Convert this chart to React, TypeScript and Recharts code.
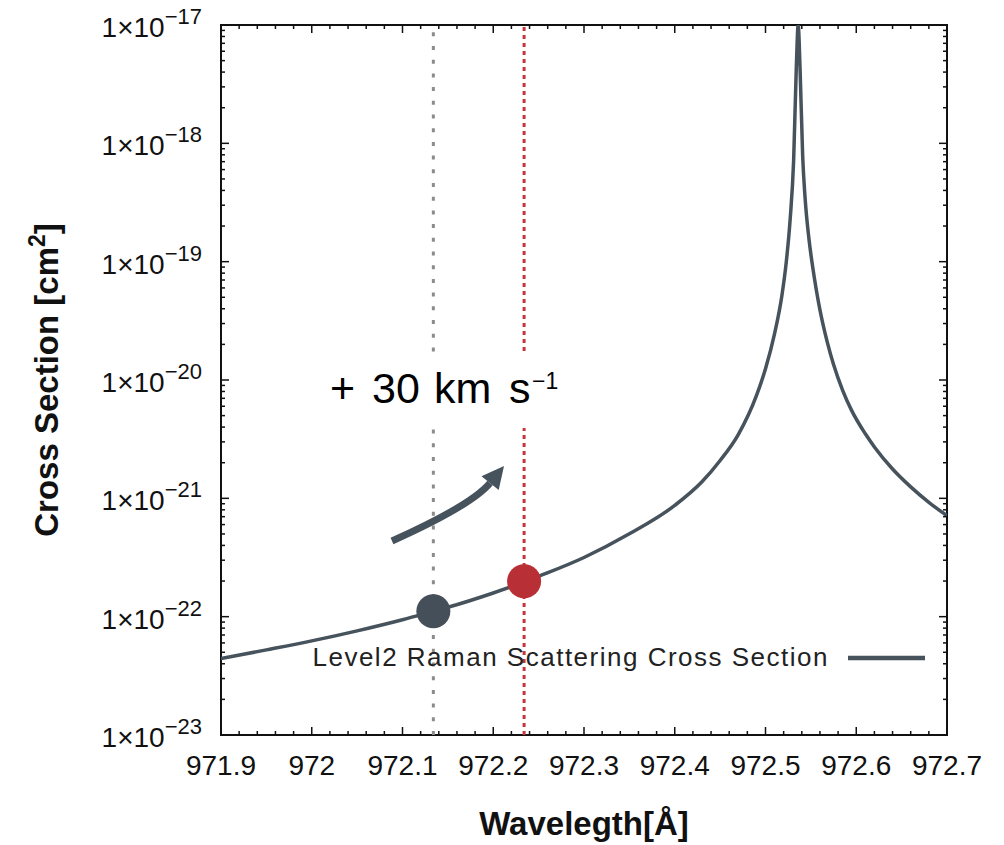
import React from "react";
import {
  LineChart, Line, XAxis, YAxis, ReferenceLine, ReferenceDot, ReferenceArea, Legend, Label,
} from "recharts";

// wavelength [Å] and cross section [cm^2]
const WAVELENGTH = [
  971.9, 971.95, 972.0, 972.05, 972.1, 972.134, 972.15, 972.2, 972.234, 972.25,
  972.3, 972.35, 972.4, 972.43, 972.45, 972.47, 972.49, 972.5, 972.51, 972.518,
  972.523, 972.527, 972.531, 972.534, 972.536, 972.538, 972.541, 972.5435, 972.548, 972.552,
  972.556, 972.56, 972.564, 972.568, 972.575, 972.585, 972.595, 972.61, 972.62, 972.64,
  972.66, 972.68, 972.7,
];
const CROSS_SECTION = [
  4.43e-23, 5.24e-23, 6.24e-23, 7.59e-23, 9.42e-23, 1.11e-22, 1.2e-22, 1.585e-22, 1.96e-22, 2.19e-22,
  3.16e-22, 5.01e-22, 8.71e-22, 1.38e-21, 2.09e-21, 3.46e-21, 7.38e-21, 1.245e-20, 2.47e-20, 5.13e-20,
  1.01e-19, 2.19e-19, 7.16e-19, 4.5e-18, 1e-17, 4.5e-18, 7.67e-19, 3.57e-19, 1.53e-19, 9.0e-20,
  5.77e-20, 3.92e-20, 2.81e-20, 2.1e-20, 1.35e-20, 8.18e-21, 5.51e-21, 3.51e-21, 2.72e-21, 1.77e-21,
  1.25e-21, 9.25e-22, 7.13e-22,
];

const X_TICKS = [971.9, 972, 972.1, 972.2, 972.3, 972.4, 972.5, 972.6, 972.7];
const X_TICK_LABELS = ["971.9", "972", "972.1", "972.2", "972.3", "972.4", "972.5", "972.6", "972.7"];
const Y_EXPONENTS = [-23, -22, -21, -20, -19, -18, -17];

const REST_LINE = 972.134;
const SHIFTED_LINE = 972.234;
const MARKER_X = [972.134, 972.234];
const MARKER_Y = [1.11e-22, 1.99e-22];

const SERIES_NAME = "Level2 Raman Scattering Cross Section";

const FONT = "'Liberation Sans', Arial, Helvetica, sans-serif";
const INK = "#111";
const CURVE = "#46525c";
const W = 1004;
const H = 845;
const PLOT = { left: 221, top: 25, right: 947, bottom: 735 };

const rows = WAVELENGTH.map((w, i) => ({ w, s: CROSS_SECTION[i] }));

// minor ticks every 0.02 Å between the labelled ones
const xAllTicks: number[] = [];
X_TICKS.forEach((t, i) => {
  xAllTicks.push(t);
  if (i < X_TICKS.length - 1) for (let k = 1; k < 5; k++) xAllTicks.push(+(t + 0.02 * k).toFixed(3));
});

const yAllTicks: number[] = [];
Y_EXPONENTS.forEach((e, i) => {
  yAllTicks.push(Math.pow(10, e));
  if (i < Y_EXPONENTS.length - 1) for (let m = 2; m < 10; m++) yAllTicks.push(m * Math.pow(10, e));
});

function XTick(props: any) {
  const { x, payload } = props;
  const v = payload.value as number;
  const idx = X_TICKS.findIndex((t) => Math.abs(t - v) < 1e-6);
  const len = idx >= 0 ? 8 : 4;
  return (
    <g>
      <line x1={x} x2={x} y1={PLOT.bottom} y2={PLOT.bottom - len} stroke={INK} strokeWidth={1.5} />
      <line x1={x} x2={x} y1={PLOT.top} y2={PLOT.top + len} stroke={INK} strokeWidth={1.5} />
      {idx >= 0 && (
        <text x={x} y={PLOT.bottom + 40} textAnchor="middle" fontSize={28} fontFamily={FONT} fill={INK}>
          {X_TICK_LABELS[idx]}
        </text>
      )}
    </g>
  );
}

function YTick(props: any) {
  const { y, payload } = props;
  const e = Math.log10(payload.value as number);
  const major = Math.abs(e - Math.round(e)) < 1e-6;
  const len = major ? 8 : 4;
  return (
    <g>
      <line x1={PLOT.left} x2={PLOT.left + len} y1={y} y2={y} stroke={INK} strokeWidth={1.5} />
      <line x1={PLOT.right} x2={PLOT.right - len} y1={y} y2={y} stroke={INK} strokeWidth={1.5} />
      {major && (
        <text x={PLOT.left - 19} y={y + 12} textAnchor="end" fontSize={28} fontFamily={FONT} fill={INK}>
          1×10
          <tspan dy={-13} fontSize={22}>{String(Math.round(e)).replace("-", "\u2212")}</tspan>
        </text>
      )}
    </g>
  );
}

function LegendBox() {
  return (
    <div style={{ position: "relative", width: W, height: 36, fontFamily: FONT }}>
      <span
        style={{
          position: "absolute", right: W - 829, top: 2, fontSize: 26, lineHeight: "30px",
          letterSpacing: 1.5, color: "#222", whiteSpace: "nowrap",
        }}
      >
        {SERIES_NAME}
      </span>
      <svg style={{ position: "absolute", left: 848, top: 0 }} width={80} height={36}>
        <line x1={0} x2={77} y1={18} y2={18} stroke={CURVE} strokeWidth={4.5} />
      </svg>
    </div>
  );
}

export default function App() {
  return (
    <div style={{ position: "absolute", left: 0, top: 0, width: W, height: H, background: "#fff", fontFamily: FONT }}>
      <LineChart width={W} height={H} data={rows} margin={{ top: PLOT.top, right: W - PLOT.right, bottom: 0, left: 0 }}>
        <XAxis
          dataKey="w" type="number" domain={[971.9, 972.7]} allowDataOverflow
          ticks={xAllTicks} interval={0} tickLine={false} axisLine={false} height={H - PLOT.bottom}
          tick={(p: any) => <XTick {...p} />}
        >
          <Label
            content={(p: any) => (
              <text
                x={p.viewBox.x + p.viewBox.width / 2} y={p.viewBox.y + 100} textAnchor="middle"
                fontSize={33} fontWeight="bold" fontFamily={FONT} fill={INK}
              >
                Wavelegth[Å]
              </text>
            )}
          />
        </XAxis>
        <YAxis
          type="number" scale="log" domain={[1e-23, 1e-17]} allowDataOverflow
          ticks={yAllTicks} interval={0} tickLine={false} axisLine={false} width={PLOT.left}
          tick={(p: any) => <YTick {...p} />}
        >
          <Label
            content={(p: any) => {
              const cy = p.viewBox.y + p.viewBox.height / 2;
              return (
                <text
                  x={58} y={cy} textAnchor="middle" transform={`rotate(-90, 58, ${cy})`}
                  fontSize={33} fontWeight="bold" fontFamily={FONT} fill={INK}
                >
                  Cross Section [cm<tspan dy={-13} fontSize={23}>2</tspan><tspan dy={13}>]</tspan>
                </text>
              );
            }}
          />
        </YAxis>
        <Line
          dataKey="s" type="monotone" stroke={CURVE} strokeWidth={3.5} dot={false}
          isAnimationActive={false} name={SERIES_NAME}
        />
        <ReferenceLine x={REST_LINE} stroke="#8c8c8c" strokeWidth={3} strokeDasharray="4 9.7" />
        <ReferenceLine x={SHIFTED_LINE} stroke="#c4373a" strokeWidth={3} strokeDasharray="4 4" />
        <ReferenceDot x={MARKER_X[0]} y={MARKER_Y[0]} r={17} fill="#444f59" stroke="none" />
        <ReferenceDot x={MARKER_X[1]} y={MARKER_Y[1]} r={17} fill="#b83035" stroke="none" />
        <ReferenceArea x1={971.9} x2={972.7} y1={1e-23} y2={1e-17} fill="none" fillOpacity={0} stroke={INK} strokeWidth={2} />
        <Legend
          layout="horizontal" verticalAlign="middle" align="center"
          wrapperStyle={{ left: 0, top: 640, width: W, height: 36 }}
          content={() => <LegendBox />}
        />
      </LineChart>
      <svg style={{ position: "absolute", left: 0, top: 0, pointerEvents: "none" }} width={W} height={H}>
        <rect x={325} y={353} width={245} height={75} fill="#fff" />
        <text y={403} fontSize={43} fontFamily={FONT} fill="#000">
          <tspan x={330}>+</tspan>
          <tspan x={372}>30</tspan>
          <tspan x={434}>km</tspan>
          <tspan x={509}>s</tspan>
          <tspan x={532} dy={-14} fontSize={23}>{"\u22121"}</tspan>
        </text>
        <path d="M392,541 Q472,505 490,483" fill="none" stroke={CURVE} strokeWidth={7} />
        <polygon points="504,466 481.5,476.3 498.7,490.1" fill={CURVE} />
      </svg>
    </div>
  );
}
